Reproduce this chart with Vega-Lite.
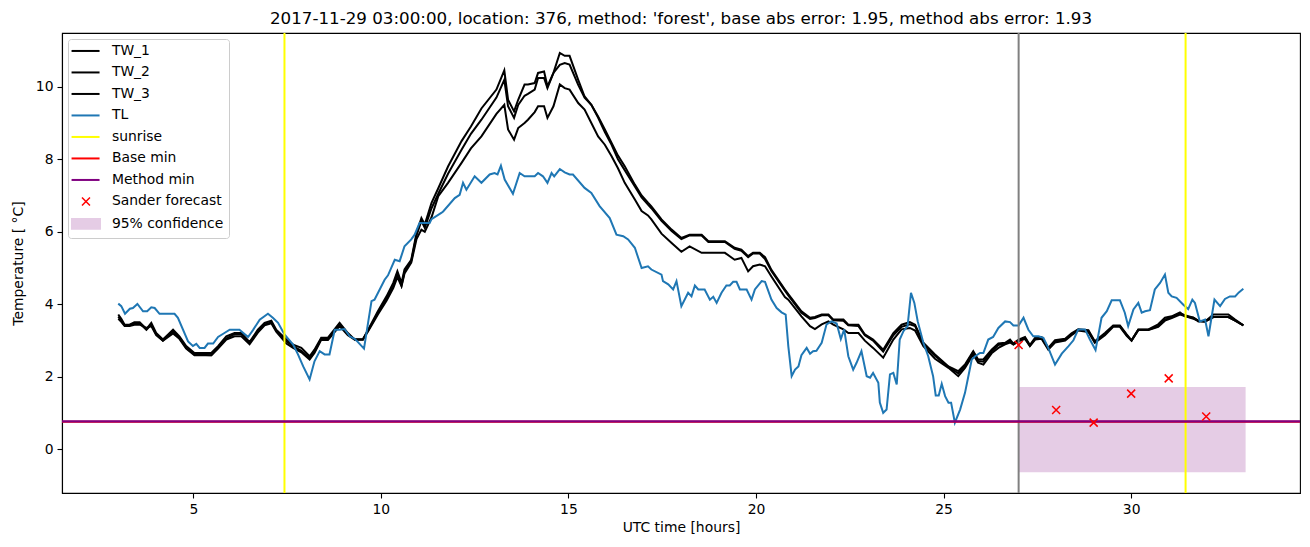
{
  "$schema": "https://vega.github.io/schema/vega-lite/v6.json",
  "width": 1238,
  "height": 460,
  "autosize": {"type": "none"},
  "padding": {"left": 62, "top": 33, "right": 10, "bottom": 54},
  "background": "white",
  "title": {"text": "2017-11-29 03:00:00, location: 376, method: 'forest', base abs error: 1.95, method abs error: 1.93", "font": "DejaVu Sans", "fontSize": 16.7, "fontWeight": "normal", "color": "black", "anchor": "middle", "offset": 4},
  "config": {
    "view": {"stroke": "black", "strokeWidth": 1.1},
    "axis": {"grid": false, "domainColor": "black", "tickColor": "black", "labelColor": "black", "titleColor": "black", "labelFont": "DejaVu Sans", "titleFont": "DejaVu Sans", "labelFontSize": 13.9, "titleFontSize": 13.9, "titleFontWeight": "normal", "tickSize": 5, "labelPadding": 4, "domainWidth": 1.1, "tickWidth": 1.1},
    "legend": {"labelFont": "DejaVu Sans", "labelFontSize": 13.9, "labelColor": "black", "labelLimit": 300, "title": null}
  },
  "datasets": {
    "tw": [
      {"t": 3.0, "TW_1": 3.72, "TW_2": 3.66, "TW_3": 3.6},
      {"t": 3.08, "TW_1": 3.6, "TW_2": 3.55, "TW_3": 3.52},
      {"t": 3.17, "TW_1": 3.44, "TW_2": 3.42, "TW_3": 3.4},
      {"t": 3.3, "TW_1": 3.44, "TW_2": 3.42, "TW_3": 3.4},
      {"t": 3.43, "TW_1": 3.51, "TW_2": 3.48, "TW_3": 3.44},
      {"t": 3.57, "TW_1": 3.51, "TW_2": 3.48, "TW_3": 3.44},
      {"t": 3.75, "TW_1": 3.32, "TW_2": 3.3, "TW_3": 3.35},
      {"t": 3.88, "TW_1": 3.49, "TW_2": 3.44, "TW_3": 3.4},
      {"t": 4.01, "TW_1": 3.21, "TW_2": 3.18, "TW_3": 3.15},
      {"t": 4.19, "TW_1": 3.03, "TW_2": 3.0, "TW_3": 3.0},
      {"t": 4.33, "TW_1": 3.17, "TW_2": 3.14, "TW_3": 3.1},
      {"t": 4.46, "TW_1": 3.3, "TW_2": 3.25, "TW_3": 3.2},
      {"t": 4.63, "TW_1": 3.12, "TW_2": 3.08, "TW_3": 3.05},
      {"t": 4.81, "TW_1": 2.85, "TW_2": 2.8, "TW_3": 2.78},
      {"t": 5.03, "TW_1": 2.66, "TW_2": 2.62, "TW_3": 2.6},
      {"t": 5.48, "TW_1": 2.66, "TW_2": 2.6, "TW_3": 2.6},
      {"t": 5.66, "TW_1": 2.85, "TW_2": 2.8, "TW_3": 2.78},
      {"t": 5.88, "TW_1": 3.12, "TW_2": 3.06, "TW_3": 3.03},
      {"t": 6.1, "TW_1": 3.21, "TW_2": 3.18, "TW_3": 3.12},
      {"t": 6.28, "TW_1": 3.21, "TW_2": 3.18, "TW_3": 3.12},
      {"t": 6.5, "TW_1": 2.96, "TW_2": 2.94, "TW_3": 2.9},
      {"t": 6.72, "TW_1": 3.3, "TW_2": 3.25, "TW_3": 3.22},
      {"t": 6.9, "TW_1": 3.49, "TW_2": 3.45, "TW_3": 3.42},
      {"t": 7.08, "TW_1": 3.55, "TW_2": 3.5, "TW_3": 3.48},
      {"t": 7.21, "TW_1": 3.3, "TW_2": 3.28, "TW_3": 3.25},
      {"t": 7.48, "TW_1": 3.03, "TW_2": 2.98, "TW_3": 2.92},
      {"t": 7.66, "TW_1": 2.89, "TW_2": 2.85, "TW_3": 2.8},
      {"t": 7.88, "TW_1": 2.8, "TW_2": 2.72, "TW_3": 2.68},
      {"t": 8.1, "TW_1": 2.57, "TW_2": 2.52, "TW_3": 2.48},
      {"t": 8.23, "TW_1": 2.75, "TW_2": 2.7, "TW_3": 2.66},
      {"t": 8.41, "TW_1": 3.08, "TW_2": 3.05, "TW_3": 3.02},
      {"t": 8.59, "TW_1": 3.08, "TW_2": 3.05, "TW_3": 3.02},
      {"t": 8.9, "TW_1": 3.49, "TW_2": 3.44, "TW_3": 3.4},
      {"t": 9.12, "TW_1": 3.21, "TW_2": 3.18, "TW_3": 3.15},
      {"t": 9.3, "TW_1": 3.03, "TW_2": 3.03, "TW_3": 3.03},
      {"t": 9.52, "TW_1": 3.03, "TW_2": 3.03, "TW_3": 3.03},
      {"t": 9.66, "TW_1": 3.3, "TW_2": 3.28, "TW_3": 3.26},
      {"t": 9.92, "TW_1": 3.81, "TW_2": 3.76, "TW_3": 3.72},
      {"t": 10.15, "TW_1": 4.22, "TW_2": 4.16, "TW_3": 4.1},
      {"t": 10.33, "TW_1": 4.59, "TW_2": 4.5, "TW_3": 4.45},
      {"t": 10.44, "TW_1": 4.91, "TW_2": 4.85, "TW_3": 4.75},
      {"t": 10.55, "TW_1": 4.59, "TW_2": 4.52, "TW_3": 4.5},
      {"t": 10.63, "TW_1": 4.96, "TW_2": 4.9, "TW_3": 4.85},
      {"t": 10.81, "TW_1": 5.23, "TW_2": 5.2, "TW_3": 5.15},
      {"t": 10.95, "TW_1": 5.97, "TW_2": 5.9, "TW_3": 5.8},
      {"t": 11.08, "TW_1": 6.38, "TW_2": 6.3, "TW_3": 6.06},
      {"t": 11.17, "TW_1": 6.2, "TW_2": 6.11, "TW_3": 6.0},
      {"t": 11.35, "TW_1": 6.8, "TW_2": 6.65, "TW_3": 6.4},
      {"t": 11.53, "TW_1": 7.2, "TW_2": 7.05, "TW_3": 6.98},
      {"t": 11.79, "TW_1": 7.8, "TW_2": 7.6, "TW_3": 7.35},
      {"t": 12.15, "TW_1": 8.5, "TW_2": 8.26, "TW_3": 7.9},
      {"t": 12.4, "TW_1": 8.9, "TW_2": 8.7, "TW_3": 8.3},
      {"t": 12.68, "TW_1": 9.4, "TW_2": 9.09, "TW_3": 8.63},
      {"t": 13.08, "TW_1": 9.92, "TW_2": 9.7, "TW_3": 9.25},
      {"t": 13.29, "TW_1": 10.45, "TW_2": 10.19, "TW_3": 9.5},
      {"t": 13.39, "TW_1": 9.64, "TW_2": 9.46, "TW_3": 8.82},
      {"t": 13.55, "TW_1": 9.32, "TW_2": 9.14, "TW_3": 8.54},
      {"t": 13.66, "TW_1": 9.64, "TW_2": 9.5, "TW_3": 8.86},
      {"t": 13.83, "TW_1": 10.06, "TW_2": 9.75, "TW_3": 9.0},
      {"t": 13.92, "TW_1": 10.06, "TW_2": 9.8, "TW_3": 9.09},
      {"t": 14.1, "TW_1": 10.1, "TW_2": 9.92, "TW_3": 9.3},
      {"t": 14.19, "TW_1": 10.38, "TW_2": 10.24, "TW_3": 9.46},
      {"t": 14.35, "TW_1": 10.42, "TW_2": 10.24, "TW_3": 9.46},
      {"t": 14.44, "TW_1": 10.01, "TW_2": 9.96, "TW_3": 9.14},
      {"t": 14.6, "TW_1": 10.38, "TW_2": 10.38, "TW_3": 9.46},
      {"t": 14.77, "TW_1": 10.93, "TW_2": 10.6, "TW_3": 10.06},
      {"t": 14.9, "TW_1": 10.85, "TW_2": 10.65, "TW_3": 9.96},
      {"t": 15.03, "TW_1": 10.85, "TW_2": 10.61, "TW_3": 9.92},
      {"t": 15.26, "TW_1": 10.19, "TW_2": 10.05, "TW_3": 9.55},
      {"t": 15.43, "TW_1": 9.73, "TW_2": 9.7, "TW_3": 9.37},
      {"t": 15.61, "TW_1": 9.5, "TW_2": 9.5, "TW_3": 9.0},
      {"t": 15.79, "TW_1": 9.18, "TW_2": 9.15, "TW_3": 8.63},
      {"t": 15.97, "TW_1": 8.82, "TW_2": 8.75, "TW_3": 8.4},
      {"t": 16.15, "TW_1": 8.45, "TW_2": 8.4, "TW_3": 8.08},
      {"t": 16.32, "TW_1": 8.1, "TW_2": 8.0, "TW_3": 7.75},
      {"t": 16.5, "TW_1": 7.81, "TW_2": 7.7, "TW_3": 7.35},
      {"t": 16.77, "TW_1": 7.3, "TW_2": 7.25, "TW_3": 6.89},
      {"t": 16.95, "TW_1": 7.0, "TW_2": 6.95, "TW_3": 6.57},
      {"t": 17.12, "TW_1": 6.8, "TW_2": 6.75, "TW_3": 6.45},
      {"t": 17.21, "TW_1": 6.7, "TW_2": 6.65, "TW_3": 6.34},
      {"t": 17.48, "TW_1": 6.34, "TW_2": 6.3, "TW_3": 5.95},
      {"t": 17.75, "TW_1": 6.06, "TW_2": 6.02, "TW_3": 5.69},
      {"t": 18.01, "TW_1": 5.83, "TW_2": 5.8, "TW_3": 5.45},
      {"t": 18.23, "TW_1": 5.92, "TW_2": 5.9, "TW_3": 5.6},
      {"t": 18.55, "TW_1": 5.92, "TW_2": 5.9, "TW_3": 5.42},
      {"t": 18.73, "TW_1": 5.74, "TW_2": 5.72, "TW_3": 5.42},
      {"t": 19.17, "TW_1": 5.74, "TW_2": 5.72, "TW_3": 5.42},
      {"t": 19.43, "TW_1": 5.56, "TW_2": 5.53, "TW_3": 5.23},
      {"t": 19.61, "TW_1": 5.51, "TW_2": 5.48, "TW_3": 5.28},
      {"t": 19.79, "TW_1": 5.33, "TW_2": 5.3, "TW_3": 4.91},
      {"t": 19.92, "TW_1": 5.42, "TW_2": 5.4, "TW_3": 5.05},
      {"t": 20.1, "TW_1": 5.42, "TW_2": 5.4, "TW_3": 5.1},
      {"t": 20.24, "TW_1": 5.3, "TW_2": 5.25, "TW_3": 5.05},
      {"t": 20.41, "TW_1": 4.95, "TW_2": 4.92, "TW_3": 4.77},
      {"t": 20.77, "TW_1": 4.41, "TW_2": 4.38, "TW_3": 4.2},
      {"t": 20.86, "TW_1": 4.28, "TW_2": 4.25, "TW_3": 4.13},
      {"t": 21.21, "TW_1": 3.81, "TW_2": 3.77, "TW_3": 3.67},
      {"t": 21.44, "TW_1": 3.63, "TW_2": 3.6, "TW_3": 3.4},
      {"t": 21.57, "TW_1": 3.65, "TW_2": 3.62, "TW_3": 3.32},
      {"t": 21.75, "TW_1": 3.72, "TW_2": 3.7, "TW_3": 3.45},
      {"t": 21.93, "TW_1": 3.72, "TW_2": 3.7, "TW_3": 3.53},
      {"t": 22.06, "TW_1": 3.58, "TW_2": 3.56, "TW_3": 3.44},
      {"t": 22.33, "TW_1": 3.58, "TW_2": 3.55, "TW_3": 3.31},
      {"t": 22.46, "TW_1": 3.44, "TW_2": 3.42, "TW_3": 3.21},
      {"t": 22.73, "TW_1": 3.44, "TW_2": 3.4, "TW_3": 3.21},
      {"t": 22.9, "TW_1": 3.17, "TW_2": 3.15, "TW_3": 3.0},
      {"t": 23.12, "TW_1": 3.03, "TW_2": 3.0, "TW_3": 2.8},
      {"t": 23.39, "TW_1": 2.75, "TW_2": 2.7, "TW_3": 2.53},
      {"t": 23.66, "TW_1": 3.21, "TW_2": 3.15, "TW_3": 3.03},
      {"t": 23.88, "TW_1": 3.44, "TW_2": 3.38, "TW_3": 3.31},
      {"t": 24.1, "TW_1": 3.51, "TW_2": 3.45, "TW_3": 3.35},
      {"t": 24.24, "TW_1": 3.44, "TW_2": 3.4, "TW_3": 3.28},
      {"t": 24.46, "TW_1": 2.94, "TW_2": 2.9, "TW_3": 2.85},
      {"t": 24.77, "TW_1": 2.62, "TW_2": 2.58, "TW_3": 2.5},
      {"t": 25.13, "TW_1": 2.29, "TW_2": 2.27, "TW_3": 2.25},
      {"t": 25.39, "TW_1": 2.16, "TW_2": 2.1, "TW_3": 2.02},
      {"t": 25.57, "TW_1": 2.34, "TW_2": 2.3, "TW_3": 2.25},
      {"t": 25.79, "TW_1": 2.71, "TW_2": 2.68, "TW_3": 2.62},
      {"t": 25.92, "TW_1": 2.48, "TW_2": 2.44, "TW_3": 2.39},
      {"t": 26.06, "TW_1": 2.48, "TW_2": 2.42, "TW_3": 2.34},
      {"t": 26.28, "TW_1": 2.75, "TW_2": 2.7, "TW_3": 2.65},
      {"t": 26.46, "TW_1": 2.92, "TW_2": 2.88, "TW_3": 2.8},
      {"t": 26.64, "TW_1": 2.94, "TW_2": 2.92, "TW_3": 2.9},
      {"t": 26.77, "TW_1": 3.03, "TW_2": 2.98, "TW_3": 2.95},
      {"t": 26.86, "TW_1": 2.92, "TW_2": 2.9, "TW_3": 2.89},
      {"t": 27.0, "TW_1": 3.03, "TW_2": 3.0, "TW_3": 2.98},
      {"t": 27.17, "TW_1": 3.1, "TW_2": 3.07, "TW_3": 3.05},
      {"t": 27.3, "TW_1": 2.88, "TW_2": 2.86, "TW_3": 2.85},
      {"t": 27.44, "TW_1": 3.08, "TW_2": 3.05, "TW_3": 3.03},
      {"t": 27.61, "TW_1": 3.1, "TW_2": 3.08, "TW_3": 3.05},
      {"t": 27.79, "TW_1": 2.8, "TW_2": 2.78, "TW_3": 2.75},
      {"t": 27.97, "TW_1": 3.01, "TW_2": 2.98, "TW_3": 2.95},
      {"t": 28.24, "TW_1": 3.05, "TW_2": 3.03, "TW_3": 3.0},
      {"t": 28.41, "TW_1": 3.2, "TW_2": 3.17, "TW_3": 3.15},
      {"t": 28.59, "TW_1": 3.31, "TW_2": 3.3, "TW_3": 3.28},
      {"t": 28.86, "TW_1": 3.29, "TW_2": 3.26, "TW_3": 3.24},
      {"t": 29.03, "TW_1": 2.98, "TW_2": 2.96, "TW_3": 2.94},
      {"t": 29.3, "TW_1": 3.21, "TW_2": 3.18, "TW_3": 3.15},
      {"t": 29.52, "TW_1": 3.42, "TW_2": 3.4, "TW_3": 3.38},
      {"t": 29.7, "TW_1": 3.42, "TW_2": 3.4, "TW_3": 3.38},
      {"t": 29.88, "TW_1": 3.17, "TW_2": 3.15, "TW_3": 3.13},
      {"t": 30.01, "TW_1": 3.01, "TW_2": 3.0, "TW_3": 3.0},
      {"t": 30.19, "TW_1": 3.31, "TW_2": 3.3, "TW_3": 3.29},
      {"t": 30.46, "TW_1": 3.31, "TW_2": 3.3, "TW_3": 3.29},
      {"t": 30.72, "TW_1": 3.45, "TW_2": 3.4, "TW_3": 3.38},
      {"t": 30.9, "TW_1": 3.63, "TW_2": 3.58, "TW_3": 3.55},
      {"t": 31.08, "TW_1": 3.67, "TW_2": 3.64, "TW_3": 3.62},
      {"t": 31.3, "TW_1": 3.78, "TW_2": 3.75, "TW_3": 3.72},
      {"t": 31.43, "TW_1": 3.67, "TW_2": 3.7, "TW_3": 3.68},
      {"t": 31.66, "TW_1": 3.63, "TW_2": 3.63, "TW_3": 3.6},
      {"t": 31.79, "TW_1": 3.53, "TW_2": 3.55, "TW_3": 3.55},
      {"t": 31.97, "TW_1": 3.53, "TW_2": 3.53, "TW_3": 3.53},
      {"t": 32.19, "TW_1": 3.72, "TW_2": 3.65, "TW_3": 3.65},
      {"t": 32.59, "TW_1": 3.72, "TW_2": 3.65, "TW_3": 3.65},
      {"t": 32.77, "TW_1": 3.58, "TW_2": 3.55, "TW_3": 3.55},
      {"t": 32.99, "TW_1": 3.42, "TW_2": 3.42, "TW_3": 3.42}
    ],
    "tl": [
      {"t": 3.0, "v": 4.02}, {"t": 3.08, "v": 3.95}, {"t": 3.18, "v": 3.74}, {"t": 3.31, "v": 3.88},
      {"t": 3.39, "v": 3.9}, {"t": 3.51, "v": 4.01}, {"t": 3.66, "v": 3.81}, {"t": 3.77, "v": 3.81},
      {"t": 3.88, "v": 3.92}, {"t": 3.97, "v": 3.9}, {"t": 4.1, "v": 3.74}, {"t": 4.5, "v": 3.74},
      {"t": 4.59, "v": 3.63}, {"t": 4.86, "v": 2.98}, {"t": 4.99, "v": 2.85}, {"t": 5.08, "v": 2.91},
      {"t": 5.17, "v": 2.8}, {"t": 5.3, "v": 2.8}, {"t": 5.39, "v": 2.92}, {"t": 5.53, "v": 2.92},
      {"t": 5.66, "v": 3.1}, {"t": 5.83, "v": 3.21}, {"t": 5.97, "v": 3.3}, {"t": 6.23, "v": 3.3},
      {"t": 6.46, "v": 3.1}, {"t": 6.59, "v": 3.29}, {"t": 6.77, "v": 3.58}, {"t": 6.99, "v": 3.74},
      {"t": 7.12, "v": 3.63}, {"t": 7.26, "v": 3.49}, {"t": 7.43, "v": 3.17}, {"t": 7.66, "v": 2.89},
      {"t": 7.79, "v": 2.62}, {"t": 7.93, "v": 2.29}, {"t": 8.1, "v": 1.93}, {"t": 8.23, "v": 2.43},
      {"t": 8.37, "v": 2.71}, {"t": 8.5, "v": 2.62}, {"t": 8.63, "v": 2.62}, {"t": 8.77, "v": 3.3},
      {"t": 8.9, "v": 3.3}, {"t": 9.03, "v": 3.32}, {"t": 9.17, "v": 3.12}, {"t": 9.3, "v": 3.05},
      {"t": 9.39, "v": 2.96}, {"t": 9.55, "v": 2.78}, {"t": 9.75, "v": 4.09}, {"t": 9.83, "v": 4.13},
      {"t": 10.1, "v": 4.68}, {"t": 10.19, "v": 4.8}, {"t": 10.37, "v": 5.23}, {"t": 10.5, "v": 5.19},
      {"t": 10.63, "v": 5.6}, {"t": 10.81, "v": 5.79}, {"t": 10.9, "v": 5.92}, {"t": 11.03, "v": 6.24},
      {"t": 11.3, "v": 6.24}, {"t": 11.35, "v": 6.35}, {"t": 11.61, "v": 6.52}, {"t": 11.66, "v": 6.56},
      {"t": 11.97, "v": 6.93}, {"t": 12.1, "v": 7.02}, {"t": 12.19, "v": 7.35}, {"t": 12.28, "v": 7.16},
      {"t": 12.5, "v": 7.53}, {"t": 12.68, "v": 7.35}, {"t": 12.9, "v": 7.58}, {"t": 13.03, "v": 7.62},
      {"t": 13.11, "v": 7.58}, {"t": 13.2, "v": 7.82}, {"t": 13.3, "v": 7.44}, {"t": 13.52, "v": 7.05},
      {"t": 13.7, "v": 7.62}, {"t": 13.83, "v": 7.53}, {"t": 14.1, "v": 7.53}, {"t": 14.19, "v": 7.62},
      {"t": 14.32, "v": 7.53}, {"t": 14.44, "v": 7.35}, {"t": 14.55, "v": 7.62}, {"t": 14.62, "v": 7.53},
      {"t": 14.77, "v": 7.73}, {"t": 14.9, "v": 7.64}, {"t": 15.03, "v": 7.58}, {"t": 15.12, "v": 7.58},
      {"t": 15.43, "v": 7.21}, {"t": 15.61, "v": 7.07}, {"t": 15.83, "v": 6.71}, {"t": 16.1, "v": 6.38},
      {"t": 16.28, "v": 5.92}, {"t": 16.46, "v": 5.88}, {"t": 16.59, "v": 5.79}, {"t": 16.77, "v": 5.56},
      {"t": 16.95, "v": 5.0}, {"t": 17.12, "v": 5.05}, {"t": 17.21, "v": 4.96}, {"t": 17.48, "v": 4.82},
      {"t": 17.52, "v": 4.64}, {"t": 17.66, "v": 4.55}, {"t": 17.79, "v": 4.41}, {"t": 17.88, "v": 4.64},
      {"t": 18.01, "v": 3.95}, {"t": 18.19, "v": 4.32}, {"t": 18.28, "v": 4.22}, {"t": 18.37, "v": 4.52},
      {"t": 18.46, "v": 4.41}, {"t": 18.63, "v": 4.41}, {"t": 18.77, "v": 4.13}, {"t": 18.86, "v": 4.21},
      {"t": 18.95, "v": 4.04}, {"t": 19.08, "v": 4.32}, {"t": 19.21, "v": 4.52}, {"t": 19.3, "v": 4.52},
      {"t": 19.39, "v": 4.62}, {"t": 19.48, "v": 4.62}, {"t": 19.57, "v": 4.41}, {"t": 19.75, "v": 4.41},
      {"t": 19.88, "v": 4.13}, {"t": 19.97, "v": 4.41}, {"t": 20.15, "v": 4.64}, {"t": 20.24, "v": 4.62},
      {"t": 20.41, "v": 4.13}, {"t": 20.55, "v": 3.9}, {"t": 20.68, "v": 3.78}, {"t": 20.79, "v": 3.72},
      {"t": 20.86, "v": 2.85}, {"t": 20.95, "v": 2.02}, {"t": 21.04, "v": 2.2}, {"t": 21.13, "v": 2.29},
      {"t": 21.21, "v": 2.6}, {"t": 21.35, "v": 2.8}, {"t": 21.44, "v": 2.64}, {"t": 21.52, "v": 2.71},
      {"t": 21.61, "v": 2.72}, {"t": 21.75, "v": 2.94}, {"t": 21.88, "v": 3.45}, {"t": 22.01, "v": 3.53},
      {"t": 22.15, "v": 3.47}, {"t": 22.26, "v": 3.04}, {"t": 22.35, "v": 3.31}, {"t": 22.46, "v": 2.57},
      {"t": 22.59, "v": 2.2}, {"t": 22.68, "v": 2.39}, {"t": 22.81, "v": 2.71}, {"t": 22.95, "v": 2.02},
      {"t": 23.04, "v": 1.98}, {"t": 23.12, "v": 2.11}, {"t": 23.26, "v": 1.84}, {"t": 23.3, "v": 1.29},
      {"t": 23.39, "v": 1.01}, {"t": 23.48, "v": 1.1}, {"t": 23.57, "v": 2.07}, {"t": 23.66, "v": 2.11},
      {"t": 23.75, "v": 1.79}, {"t": 23.83, "v": 3.03}, {"t": 23.93, "v": 3.26}, {"t": 24.04, "v": 3.4},
      {"t": 24.13, "v": 4.32}, {"t": 24.22, "v": 4.04}, {"t": 24.31, "v": 3.53}, {"t": 24.46, "v": 2.94},
      {"t": 24.59, "v": 2.57}, {"t": 24.72, "v": 2.02}, {"t": 24.79, "v": 1.49}, {"t": 24.87, "v": 1.49},
      {"t": 24.95, "v": 1.81}, {"t": 25.04, "v": 1.47}, {"t": 25.13, "v": 1.29}, {"t": 25.2, "v": 1.29},
      {"t": 25.3, "v": 0.74}, {"t": 25.44, "v": 1.1}, {"t": 25.57, "v": 1.56}, {"t": 25.66, "v": 2.02},
      {"t": 25.75, "v": 2.48}, {"t": 25.84, "v": 2.57}, {"t": 25.97, "v": 2.66}, {"t": 26.06, "v": 2.66},
      {"t": 26.19, "v": 3.03}, {"t": 26.32, "v": 3.1}, {"t": 26.46, "v": 3.35}, {"t": 26.64, "v": 3.53},
      {"t": 26.77, "v": 3.51}, {"t": 26.86, "v": 3.42}, {"t": 27.0, "v": 3.42}, {"t": 27.13, "v": 3.63},
      {"t": 27.26, "v": 3.3}, {"t": 27.39, "v": 3.12}, {"t": 27.53, "v": 3.12}, {"t": 27.66, "v": 3.08},
      {"t": 27.79, "v": 2.8}, {"t": 27.97, "v": 2.34}, {"t": 28.15, "v": 2.64}, {"t": 28.33, "v": 2.85},
      {"t": 28.46, "v": 3.01}, {"t": 28.59, "v": 3.31}, {"t": 28.77, "v": 3.31}, {"t": 28.9, "v": 3.03},
      {"t": 29.05, "v": 2.74}, {"t": 29.21, "v": 3.63}, {"t": 29.35, "v": 3.81}, {"t": 29.48, "v": 4.11},
      {"t": 29.7, "v": 4.11}, {"t": 29.83, "v": 3.77}, {"t": 29.92, "v": 3.4}, {"t": 30.06, "v": 3.86},
      {"t": 30.19, "v": 4.04}, {"t": 30.28, "v": 3.77}, {"t": 30.37, "v": 3.81}, {"t": 30.5, "v": 3.84},
      {"t": 30.63, "v": 4.41}, {"t": 30.77, "v": 4.59}, {"t": 30.9, "v": 4.82}, {"t": 30.99, "v": 4.32},
      {"t": 31.08, "v": 4.22}, {"t": 31.21, "v": 4.18}, {"t": 31.39, "v": 3.99}, {"t": 31.52, "v": 3.87},
      {"t": 31.63, "v": 4.13}, {"t": 31.7, "v": 4.04}, {"t": 31.83, "v": 3.53}, {"t": 31.97, "v": 3.58},
      {"t": 32.06, "v": 3.12}, {"t": 32.22, "v": 4.13}, {"t": 32.37, "v": 3.95}, {"t": 32.5, "v": 4.15},
      {"t": 32.63, "v": 4.22}, {"t": 32.77, "v": 4.22}, {"t": 32.87, "v": 4.33}, {"t": 32.99, "v": 4.43}
    ],
    "band": [{"x1": 27, "x2": 33.05, "lo": -0.63, "hi": 1.72}],
    "sunrise": [{"t": 7.43}, {"t": 31.45}],
    "now": [{"t": 27}],
    "basemin": [{"v": 0.762}],
    "methodmin": [{"v": 0.775}],
    "sander": [
      {"t": 27, "v": 2.88}, {"t": 28, "v": 1.09}, {"t": 29, "v": 0.74},
      {"t": 30, "v": 1.54}, {"t": 31, "v": 1.96}, {"t": 32, "v": 0.91}
    ]
  },
  "encoding": {
    "x": {"type": "quantitative", "scale": {"domain": [1.5, 34.5], "nice": false, "zero": false}, "axis": {"title": "UTC time [hours]", "values": [5, 10, 15, 20, 25, 30], "titlePadding": 5}},
    "y": {"type": "quantitative", "scale": {"domain": [-1.2, 11.48], "nice": false, "zero": false}, "axis": {"title": "Temperature [ °C]", "values": [0, 2, 4, 6, 8, 10], "titlePadding": 10}}
  },
  "layer": [
    {
      "data": {"name": "band"},
      "mark": {"type": "rect"},
      "encoding": {
        "x": {"field": "x1", "type": "quantitative"},
        "x2": {"field": "x2"},
        "y": {"field": "lo", "type": "quantitative"},
        "y2": {"field": "hi"},
        "color": {"datum": "95% confidence", "type": "nominal", "title": null,
          "scale": {
            "domain": ["TW_1", "TW_2", "TW_3", "TL", "sunrise", "Base min", "Method min", "Sander forecast", "95% confidence"],
            "range": ["#000000", "#000000", "#000000", "#1f77b4", "#ffff00", "#ff0000", "#800080", "#ff0000", "#e5cce5"]
          },
          "legend": {
            "title": null,
            "orient": "top-left",
            "offset": 6,
            "padding": 5,
            "rowPadding": 6.5,
            "strokeColor": "#cccccc",
            "fillColor": "white",
            "cornerRadius": 3,
            "symbolSize": 196,
            "labelOffset": 25,
            "labelFontSize": 13.9,
            "labelFont": "DejaVu Sans",
            "labelColor": "black",
            "encode": {
              "symbols": {
                "update": {
                  "shape": {"signal": "datum.value === 'Sander forecast' ? 'M0.29,-0.57L1.43,0.57M0.29,0.57L1.43,-0.57' : (datum.value === '95% confidence' ? 'M-1.14,-0.7H2.86V0.7H-1.14Z' : 'M-1.2,0H2.8')"},
                  "fill": {"signal": "datum.value === '95% confidence' ? '#e5cce5' : 'transparent'"},
                  "stroke": {"signal": "datum.value === '95% confidence' ? 'transparent' : (datum.value === 'TL' ? '#1f77b4' : (datum.value === 'sunrise' ? '#ffff00' : (datum.value === 'Base min' || datum.value === 'Sander forecast' ? '#ff0000' : (datum.value === 'Method min' ? '#800080' : '#000000'))))"},
                  "strokeWidth": {"signal": "datum.value === 'Sander forecast' ? 1.5 : 2"},
                  "opacity": {"value": 1},
                  "fillOpacity": {"value": 1},
                  "strokeOpacity": {"value": 1}
                }
              }
            }
          }
        }
      }
    },
    {
      "data": {"name": "tw"},
      "transform": [{"fold": ["TW_1", "TW_2", "TW_3"], "as": ["series", "value"]}],
      "mark": {"type": "line", "strokeWidth": 2},
      "encoding": {
        "x": {"field": "t", "type": "quantitative"},
        "y": {"field": "value", "type": "quantitative"},
        "color": {"field": "series", "type": "nominal", "title": null}
      }
    },
    {
      "data": {"name": "tl"},
      "mark": {"type": "line", "strokeWidth": 2},
      "encoding": {
        "x": {"field": "t", "type": "quantitative"},
        "y": {"field": "v", "type": "quantitative"},
        "color": {"datum": "TL", "type": "nominal", "title": null}
      }
    },
    {
      "data": {"name": "sunrise"},
      "mark": {"type": "rule", "strokeWidth": 2},
      "encoding": {
        "x": {"field": "t", "type": "quantitative"},
        "color": {"datum": "sunrise", "type": "nominal", "title": null}
      }
    },
    {
      "data": {"name": "now"},
      "mark": {"type": "rule", "strokeWidth": 2, "color": "#808080"},
      "encoding": {
        "x": {"field": "t", "type": "quantitative"}
      }
    },
    {
      "data": {"name": "basemin"},
      "mark": {"type": "rule", "strokeWidth": 2},
      "encoding": {
        "y": {"field": "v", "type": "quantitative"},
        "color": {"datum": "Base min", "type": "nominal", "title": null}
      }
    },
    {
      "data": {"name": "methodmin"},
      "mark": {"type": "rule", "strokeWidth": 2.4},
      "encoding": {
        "y": {"field": "v", "type": "quantitative"},
        "color": {"datum": "Method min", "type": "nominal", "title": null}
      }
    },
    {
      "data": {"name": "sander"},
      "mark": {"type": "point", "shape": "M-1,-1L1,1M-1,1L1,-1", "size": 64, "filled": false, "strokeWidth": 1.5, "opacity": 1},
      "encoding": {
        "x": {"field": "t", "type": "quantitative"},
        "y": {"field": "v", "type": "quantitative"},
        "color": {"datum": "Sander forecast", "type": "nominal", "title": null}
      }
    }
  ]
}
